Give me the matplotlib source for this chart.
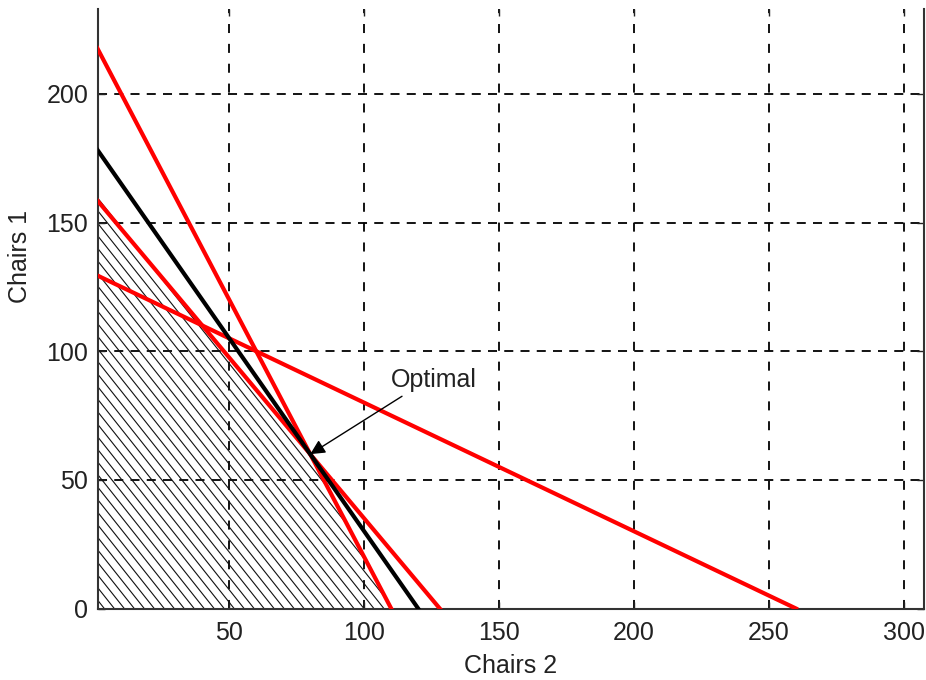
import numpy as np
import matplotlib.pyplot as plt
from matplotlib.patches import Polygon

# constraint lines, given by their axis intercepts
constraint_x_int = [110, 128, 260]
constraint_y_int = [220, 160, 130]

# objective line through the optimum
objective_x_int = 120
objective_y_int = 180

# hatched region corners
region_x = [0, 110, 80, 0]
region_y = [0, 0, 60, 162]

optimal_x, optimal_y = 80, 60
label_x, label_y = 110, 86
tail_x, tail_y = 114, 82.5

x_ticks = [50, 100, 150, 200, 250, 300]
y_ticks = [0, 50, 100, 150, 200]

plt.rcParams['font.family'] = ['Liberation Sans', 'DejaVu Sans']

fig = plt.figure(figsize=(9.26, 6.8), dpi=100)
ax = fig.add_axes([0.1058, 0.1051, 0.892, 0.8816])
ax.set_xlim(1.35, 307.4)
ax.set_ylim(0, 233)

# hatching: thin diagonal lines clipped to the region
poly = Polygon(np.column_stack([region_x, region_y]), closed=True,
               facecolor='none', edgecolor='none')
ax.add_patch(poly)
slope = 1.32
xs = np.array([-10, 320])
for c in np.arange(0, 260, 3.7):
    ln, = ax.plot(xs, slope * (c - xs), color='#111111', lw=0.8, zorder=2)
    ln.set_clip_path(poly)

for xi, yi in zip(constraint_x_int, constraint_y_int):
    ax.plot([0, xi], [yi, 0], color='red', lw=3, zorder=3)
ax.plot([0, objective_x_int], [objective_y_int, 0], color='black', lw=3, zorder=4)

ax.annotate('', xy=(optimal_x, optimal_y), xytext=(tail_x, tail_y),
            arrowprops=dict(arrowstyle='-|>', color='black', lw=1,
                            mutation_scale=22, shrinkA=0, shrinkB=0), zorder=5)
ax.text(label_x, label_y, 'Optimal', fontsize=18, color='#222222', va='baseline')

ax.set_xticks(x_ticks)
ax.set_yticks(y_ticks)
ax.tick_params(direction='in', length=5, width=1, right=True, top=True,
               labelsize=18, colors='#222222')
ax.tick_params(axis='x', pad=9)
ax.tick_params(axis='y', pad=7)

ax.set_axisbelow(True)
ax.xaxis.grid(True, color='black', lw=1.3, linestyle=(0, (5, 6)))
ax.yaxis.grid(True, color='black', lw=1.3, linestyle=(0, (5, 4)))

for side in ['left', 'right', 'bottom']:
    ax.spines[side].set_color('#333333')
    ax.spines[side].set_linewidth(1.5)
ax.spines['top'].set_visible(False)

ax.set_xlabel('Chairs 2', fontsize=18, color='#222222')
ax.set_ylabel('Chairs 1', fontsize=18, color='#222222')
ax.xaxis.set_label_coords(0.5, -0.076)
ax.yaxis.set_label_coords(-0.08, 0.588)

fig.savefig('out.png', dpi=100)
